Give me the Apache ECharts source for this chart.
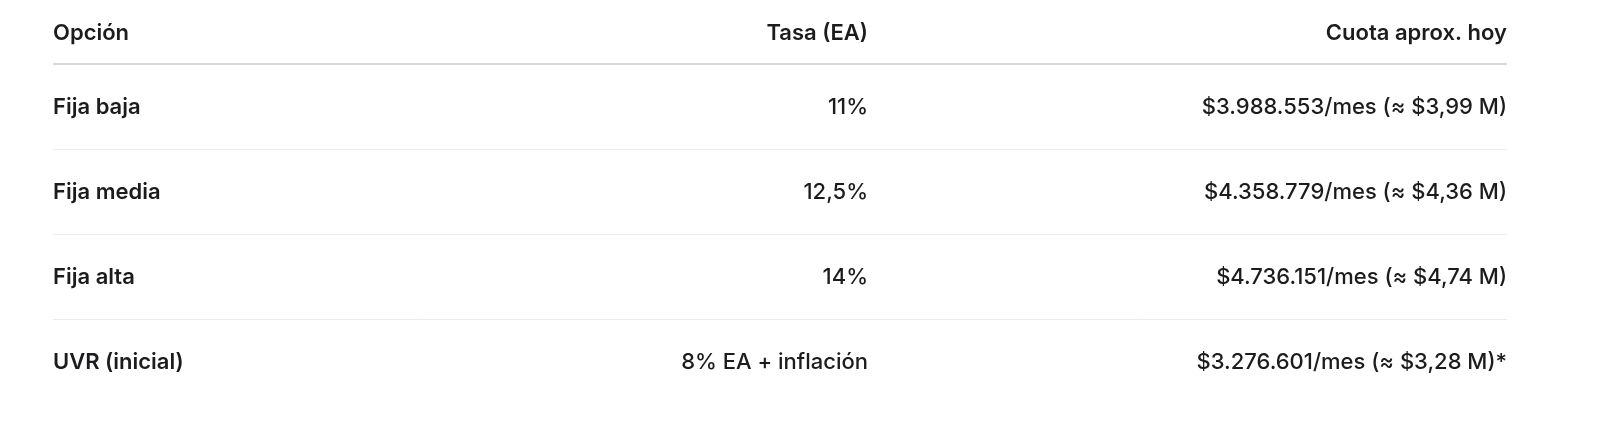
<!DOCTYPE html>
<html>
<head>
<meta charset="utf-8">
<script src="https://cdn.jsdelivr.net/npm/echarts@6/dist/echarts.min.js"></script>
<style>
html,body{margin:0;padding:0;background:#fff;}
#table{width:1600px;height:428px;}
</style>
</head>
<body>
<div id="table"></div>
<script>
// datos de la tabla
var headers = ['Opción', 'Tasa (EA)', 'Cuota aprox. hoy'];
var options = ['Fija baja', 'Fija media', 'Fija alta', 'UVR (inicial)'];
var rates = ['11%', '12,5%', '14%', '8% EA + inflación'];
var payments = ['$3.988.553/mes (≈ $3,99 M)', '$4.358.779/mes (≈ $4,36 M)', '$4.736.151/mes (≈ $4,74 M)', '$3.276.601/mes (≈ $3,28 M)*'];

var font = 'Inter, "Noto Sans", sans-serif';
var color = '#1c1c1e';
var left = 53, midRight = 868, right = 1507;
var headerY = 33, firstRowY = 107, rowH = 85;

var elements = [];
function txt(x, y, s, align, weight) {
    elements.push({
        type: 'text',
        style: { x: x, y: y, text: s, fill: color, font: weight + ' 22px ' + font, textAlign: align, textVerticalAlign: 'middle' }
    });
}
function line(y, c, w) {
    elements.push({
        type: 'line', shape: { x1: left, y1: y, x2: right, y2: y },
        style: { stroke: c, lineWidth: w }
    });
}

txt(left, headerY, headers[0], 'left', 600);
txt(midRight, headerY, headers[1], 'right', 600);
txt(right, headerY, headers[2], 'right', 600);
line(64, '#d6d6d8', 2);

for (let i = 0; i < options.length; i++) {
    let y = firstRowY + i * rowH;
    txt(left, y, options[i], 'left', 600);
    txt(midRight, y, rates[i], 'right', 500);
    txt(right, y, payments[i], 'right', 500);
    if (i < options.length - 1) line(y + rowH / 2, '#ececee', 1);
}

var myChart = echarts.init(document.querySelector('#table'));
myChart.setOption({ animation: false, graphic: { elements: elements } });
</script>
</body>
</html>
